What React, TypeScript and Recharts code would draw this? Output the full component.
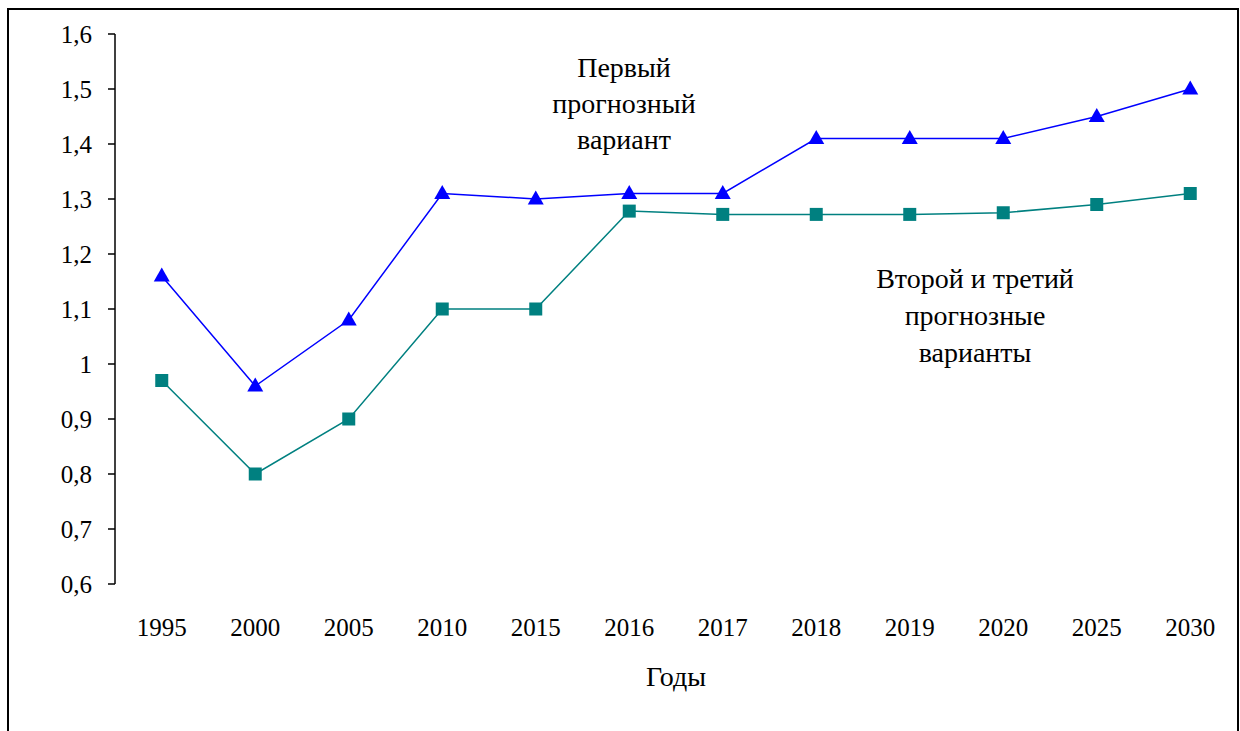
import React from "react";
import { LineChart, Line, XAxis, YAxis, Customized } from "recharts";

const years = ["1995", "2000", "2005", "2010", "2015", "2016", "2017", "2018", "2019", "2020", "2025", "2030"];
const firstVariant = [1.16, 0.96, 1.08, 1.31, 1.3, 1.31, 1.31, 1.41, 1.41, 1.41, 1.45, 1.5];
const secondThirdVariant = [0.97, 0.8, 0.9, 1.1, 1.1, 1.278, 1.272, 1.272, 1.272, 1.275, 1.29, 1.31];
const yTicks = [0.6, 0.7, 0.8, 0.9, 1, 1.1, 1.2, 1.3, 1.4, 1.5, 1.6];
const labelFirst = ["Первый", "прогнозный", "вариант"];
const labelSecond = ["Второй и третий", "прогнозные", "варианты"];

const data = years.map((y, i) => ({
  year: y,
  pos: i + 0.5,
  first: firstVariant[i],
  second: secondThirdVariant[i],
}));
const centerTicks = years.map((_, i) => i + 0.5);
const boundaryTicks = years.map((_, i) => i).concat([years.length]);

const FONT = "'Times New Roman', 'Liberation Serif', 'DejaVu Serif', serif";
const textStyle = { fontFamily: FONT, fontSize: 25 };
const wordStyle = { fontFamily: FONT, fontSize: 28 };

const Triangle = (props: any) => {
  const { cx, cy } = props;
  if (cx == null || cy == null) return null;
  return <path d={`M${cx},${cy - 8.5} L${cx + 8},${cy + 5.5} L${cx - 8},${cy + 5.5} Z`} fill="#0000FF" />;
};
const Square = (props: any) => {
  const { cx, cy } = props;
  if (cx == null || cy == null) return null;
  return <rect x={cx - 6.5} y={cy - 6.5} width={13} height={13} fill="#008080" />;
};

const Annotations = () => (
  <g>
    {labelFirst.map((t, i) => (
      <text key={"a" + i} x={624} y={77 + i * 36} textAnchor="middle" fill="#000" style={wordStyle}>{t}</text>
    ))}
    {labelSecond.map((t, i) => (
      <text key={"b" + i} x={975} y={288 + i * 37} textAnchor="middle" fill="#000" style={wordStyle}>{t}</text>
    ))}
  </g>
);

export default function App() {
  return (
    <div style={{ position: "absolute", left: 0, top: 0, width: 1240, height: 731, background: "#fff", overflow: "hidden" }}>
      <div style={{ position: "absolute", left: 7, top: 8, width: 1228, height: 760, border: "2px solid #000", borderBottom: "none" }} />
      <LineChart
        width={1240}
        height={731}
        data={data}
        margin={{ top: 34, right: 3, left: 0, bottom: 0 }}
        style={{ position: "absolute", left: 0, top: 0 }}
      >
        <XAxis
          xAxisId="marks"
          type="number"
          dataKey="pos"
          domain={[0, years.length]}
          ticks={boundaryTicks}
          tick={false}
          tickSize={7}
          height={0}
          axisLine={{ stroke: "#000", strokeWidth: 1.5 }}
          tickLine={{ stroke: "#000", strokeWidth: 1.5 }}
          allowDataOverflow
        />
        <XAxis
          type="number"
          dataKey="pos"
          domain={[0, years.length]}
          ticks={centerTicks}
          tickFormatter={(v: number) => years[Math.round(v - 0.5)]}
          tickLine={false}
          axisLine={false}
          tickMargin={28}
          height={147}
          tick={{ style: textStyle, fill: "#000" }}
          label={{ value: "Годы", position: "insideTop", offset: 82, style: wordStyle, fill: "#000" }}
          interval={0}
        />
        <YAxis
          domain={[0.6, 1.6]}
          ticks={yTicks}
          width={115}
          tickSize={7}
          tickMargin={16}
          tickFormatter={(v: number) => String(v).replace(".", ",")}
          axisLine={{ stroke: "#000", strokeWidth: 1.5 }}
          tickLine={{ stroke: "#000", strokeWidth: 1.5 }}
          tick={{ style: textStyle, fill: "#000" }}
          interval={0}
          allowDataOverflow
        />
        <Line
          dataKey="first"
          stroke="#0000FF"
          strokeWidth={1.5}
          dot={<Triangle />}
          activeDot={false}
          isAnimationActive={false}
        />
        <Line
          dataKey="second"
          stroke="#008080"
          strokeWidth={1.5}
          dot={<Square />}
          activeDot={false}
          isAnimationActive={false}
        />
        <Customized component={Annotations} />
      </LineChart>
    </div>
  );
}
